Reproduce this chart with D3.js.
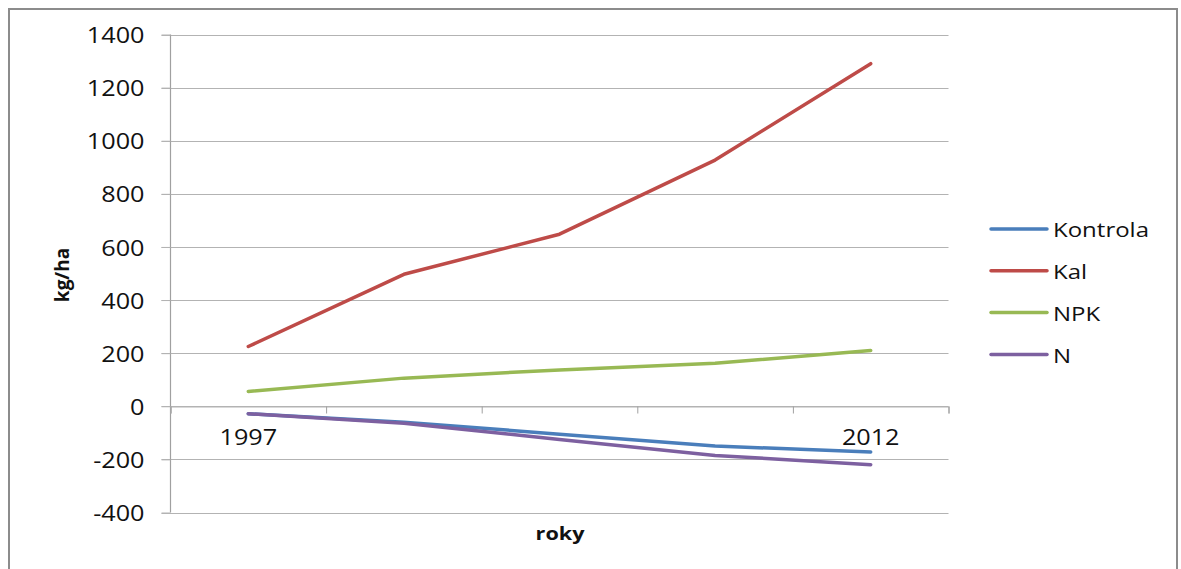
<!DOCTYPE html>
<html>
<head>
<meta charset="utf-8">
<script src="https://cdn.jsdelivr.net/npm/d3@7"></script>
<style>
  html, body { margin: 0; padding: 0; background: #fff; }
  svg { display: block; }
  text { font-family: "Open Sans", "Liberation Sans", sans-serif; fill: #111; }
</style>
</head>
<body>
<svg id="chart" width="1181" height="569"></svg>
<script>
// ---- data ----
const xLabels = ["1997", "", "", "", "2012"];
const seriesNames = ["Kontrola", "Kal", "NPK", "N"];
const kontrola = [-28, -60, -105, -150, -172];
const kal = [225, 497, 648, 927, 1290];
const npk = [56, 106, 137, 162, 210];
const nSeries = [-28, -64, -125, -185, -220];
const yTicks = [-400, -200, 0, 200, 400, 600, 800, 1000, 1200, 1400];
const colors = ["#4a7ebb", "#be4b48", "#98b954", "#7d60a0"];

const seriesValues = [kontrola, kal, npk, nSeries];

(function () {
const svg = d3.select("#chart");
const SX = 1.2; // horizontal stretch of text, like the reference

// outer frame
svg.append("rect")
  .attr("x", 9).attr("y", 9).attr("width", 1168).attr("height", 580)
  .attr("fill", "none").attr("stroke", "#8c8c8c").attr("stroke-width", 2);

const pLeft = 170.5, pRight = 948.5, pTop = 34.5, pBottom = 512.5;
const x = d3.scaleLinear().domain([0, xLabels.length]).range([pLeft, pRight]);
const y = d3.scaleLinear().domain([-400, 1400]).range([pBottom, pTop]);

// gridlines
svg.append("g").selectAll("line").data(yTicks).join("line")
  .attr("x1", pLeft - 9).attr("x2", pRight)
  .attr("y1", d => Math.round(y(d)) + 0.5).attr("y2", d => Math.round(y(d)) + 0.5)
  .attr("stroke", "#b3b3b3").attr("stroke-width", 1.2);

// y axis
const yAxis = svg.append("g").attr("transform", `translate(${pLeft},0)`)
  .call(d3.axisLeft(y).tickValues(yTicks).tickSize(9).tickFormat(d => String(d)));
yAxis.select(".domain").attr("stroke", "#a0a0a0").attr("stroke-width", 1.2)
  .attr("d", `M0,${pTop}V${pBottom}`);
yAxis.selectAll(".tick line").attr("stroke", "#b3b3b3");
yAxis.selectAll(".tick text")
  .attr("x", null).attr("dy", null)
  .attr("transform", `translate(-26,0) scale(${SX},1)`)
  .attr("dominant-baseline", "central")
  .attr("font-size", 21).attr("font-family", "Open Sans").attr("fill", "#111");

// x axis at value 0
const xAxis = svg.append("g").attr("transform", `translate(0,${Math.round(y(0)) + 0.5})`)
  .call(d3.axisBottom(x).tickValues(d3.range(xLabels.length + 1)).tickSize(7).tickFormat(""));
xAxis.select(".domain").attr("stroke", "#b3b3b3").attr("stroke-width", 1.2);
xAxis.selectAll(".tick line").attr("stroke", "#a0a0a0");

// x labels
svg.append("g").selectAll("text").data(xLabels).join("text")
  .attr("transform", (d, i) => `translate(${x(i + 0.5)},437) scale(${SX},1)`)
  .attr("text-anchor", "middle").attr("dominant-baseline", "central")
  .attr("font-size", 21).text(d => d);

// lines
const line = d3.line().x((d, i) => x(i + 0.5)).y(d => y(d));
svg.append("g").selectAll("path").data(seriesValues).join("path")
  .attr("d", d => line(d))
  .attr("fill", "none")
  .attr("stroke", (d, i) => colors[i])
  .attr("stroke-width", 3.5)
  .attr("stroke-linejoin", "round").attr("stroke-linecap", "round");

// axis titles
svg.append("text")
  .attr("transform", "translate(62,275) rotate(-90)")
  .attr("text-anchor", "middle").attr("dominant-baseline", "central")
  .attr("font-size", 19).attr("font-weight", "bold").text("kg/ha");
svg.append("text")
  .attr("transform", `translate(560,533) scale(${SX},1)`)
  .attr("text-anchor", "middle").attr("dominant-baseline", "central")
  .attr("font-size", 18).attr("font-weight", "bold").text("roky");

// legend
const legend = svg.append("g").selectAll("g").data(seriesNames).join("g")
  .attr("transform", (d, i) => `translate(0,${229 + i * 41.8})`);
legend.append("line")
  .attr("x1", 991).attr("x2", 1047).attr("y1", 0).attr("y2", 0)
  .attr("stroke", (d, i) => colors[i]).attr("stroke-width", 3.5)
  .attr("stroke-linecap", "round");
legend.append("text")
  .attr("transform", `translate(1053,0) scale(${SX},1)`)
  .attr("dominant-baseline", "central")
  .attr("font-size", 20).text(d => d);
})();
</script>
</body>
</html>
